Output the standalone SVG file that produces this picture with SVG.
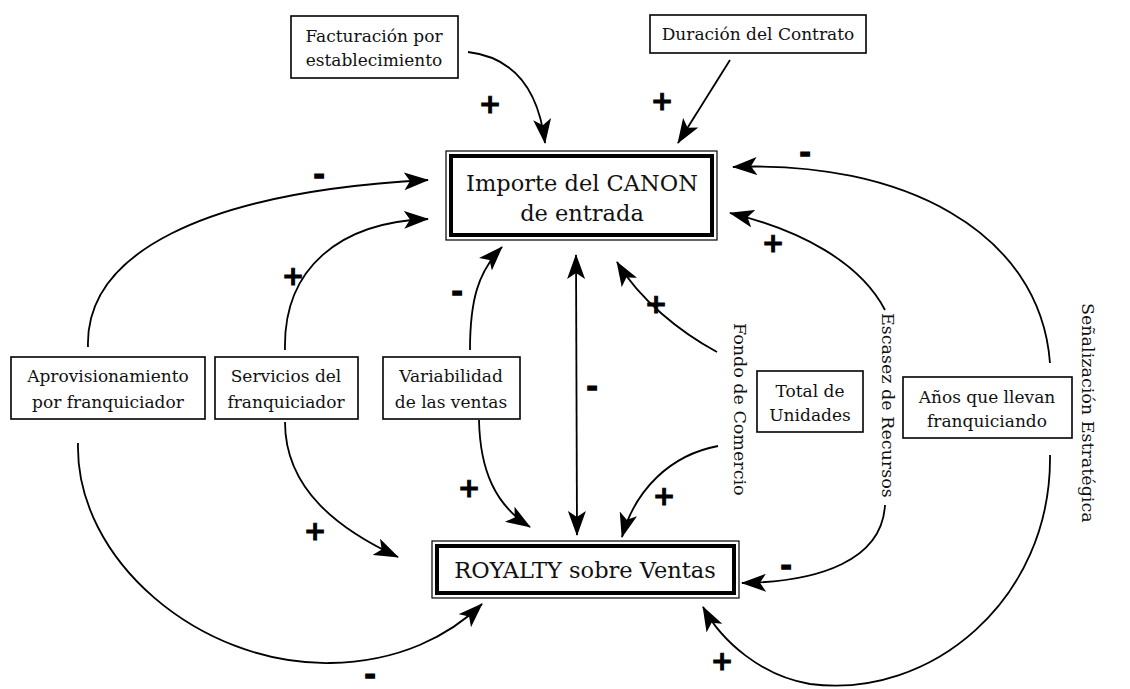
<svg xmlns="http://www.w3.org/2000/svg" width="1130" height="689" viewBox="0 0 1130 689">
  <defs>
    <marker id="arr" markerUnits="userSpaceOnUse" markerWidth="26" markerHeight="18" refX="24" refY="9" orient="auto" viewBox="0 0 26 18">
      <path d="M0,0 L25,9 L0,18 L6,9 z" fill="#000"/>
    </marker>
    <marker id="arrStart" markerUnits="userSpaceOnUse" markerWidth="26" markerHeight="18" refX="24" refY="9" orient="auto-start-reverse" viewBox="0 0 26 18">
      <path d="M0,0 L25,9 L0,18 L6,9 z" fill="#000"/>
    </marker>
  </defs>
  <style>
    .bg { fill: #fff; }
    .box { fill: #fff; stroke: #000; stroke-width: 1.6; }
    .outer { fill: #fff; stroke: #000; stroke-width: 1.2; }
    .inner { fill: none; stroke: #000; stroke-width: 4; }
    .lbl { font-family: "DejaVu Serif", "Liberation Serif", serif; font-size: 17px; fill: #111; text-anchor: middle; }
    .big { font-family: "DejaVu Serif", "Liberation Serif", serif; font-size: 22.5px; fill: #111; text-anchor: middle; }
    .vert { font-family: "DejaVu Serif", "Liberation Serif", serif; font-size: 17.5px; fill: #111; }
    .link { fill: none; stroke: #000; stroke-width: 1.8; marker-end: url(#arr); }
    .sign { font-family: "DejaVu Sans", "Liberation Sans", sans-serif; font-weight: bold; font-size: 27px; fill: #000; stroke: #000; stroke-width: 0.8; text-anchor: middle; }
    .neg { stroke-width: 1.6; }
  </style>
  <rect class="bg" x="0" y="0" width="1130" height="689"/>

  <!-- connectors -->
  <g id="connectors">
    <path class="link" d="M468,52 Q535,60 545,143"/>
    <path class="link" d="M730,60 L678,143"/>
    <path class="link" d="M88,347 C85,255 200,192 428,180"/>
    <path class="link" d="M285,350 C283,268 340,222 428,219"/>
    <path class="link" d="M470,350 C470,300 478,272 502,247"/>
    <path class="link" d="M576,255 L577,535" marker-start="url(#arrStart)"/>
    <path class="link" d="M717,352 C680,332 640,300 617,262"/>
    <path class="link" d="M718,446 C670,455 635,490 622,537"/>
    <path class="link" d="M885,310 C860,262 800,230 730,213"/>
    <path class="link" d="M885,505 C882,560 820,582 742,583"/>
    <path class="link" d="M1050,363 C1040,230 900,160 733,167"/>
    <path class="link" d="M1050,455 C1052,600 930,700 810,684 C762,676 722,642 703,607"/>
    <path class="link" d="M285,422 C285,490 340,530 398,557"/>
    <path class="link" d="M479,420 C480,470 495,505 530,527"/>
    <path class="link" d="M78,443 C75,560 200,665 330,663 C400,662 450,635 482,604"/>

    <!-- polarity signs -->
    <text class="sign" x="490" y="113">+</text>
    <text class="sign" x="662" y="110">+</text>
    <text class="sign neg" x="319" y="184">-</text>
    <text class="sign" x="293" y="285">+</text>
    <text class="sign neg" x="457" y="301">-</text>
    <text class="sign neg" x="592" y="396">-</text>
    <text class="sign" x="656" y="313">+</text>
    <text class="sign" x="664" y="505">+</text>
    <text class="sign" x="773" y="252">+</text>
    <text class="sign neg" x="786" y="575">-</text>
    <text class="sign neg" x="805" y="162">-</text>
    <text class="sign" x="722" y="670">+</text>
    <text class="sign" x="315" y="540">+</text>
    <text class="sign" x="469" y="497">+</text>
    <text class="sign neg" x="370" y="684">-</text>
  </g>

  <!-- stocks -->
  <g id="canon">
    <rect class="outer" x="446" y="151" width="271" height="89"/>
    <rect class="inner" x="451" y="156" width="261" height="79"/>
    <text class="big" x="582" y="191">Importe del CANON</text>
    <text class="big" x="582" y="221">de entrada</text>
  </g>
  <g id="royalty">
    <rect class="outer" x="432" y="541" width="307" height="57"/>
    <rect class="inner" x="437" y="546" width="297" height="47"/>
    <text class="big" x="585" y="578">ROYALTY sobre Ventas</text>
  </g>

  <!-- auxiliary variables -->
  <g id="facturacion">
    <rect class="box" x="291" y="16" width="167" height="62"/>
    <text class="lbl" x="374" y="42">Facturación por</text>
    <text class="lbl" x="374" y="66">establecimiento</text>
  </g>
  <g id="duracion">
    <rect class="box" x="650" y="15" width="216" height="38"/>
    <text class="lbl" x="758" y="40">Duración del Contrato</text>
  </g>
  <g id="aprovisionamiento">
    <rect class="box" x="11" y="357" width="194" height="62"/>
    <text class="lbl" x="108" y="382">Aprovisionamiento</text>
    <text class="lbl" x="108" y="408">por franquiciador</text>
  </g>
  <g id="servicios">
    <rect class="box" x="215" y="357" width="143" height="62"/>
    <text class="lbl" x="286" y="382">Servicios del</text>
    <text class="lbl" x="286" y="408">franquiciador</text>
  </g>
  <g id="variabilidad">
    <rect class="box" x="383" y="357" width="137" height="62"/>
    <text class="lbl" x="451" y="382">Variabilidad</text>
    <text class="lbl" x="451" y="408">de las ventas</text>
  </g>
  <g id="total">
    <rect class="box" x="757" y="371" width="106" height="61"/>
    <text class="lbl" x="810" y="397">Total de</text>
    <text class="lbl" x="810" y="421">Unidades</text>
  </g>
  <g id="anos">
    <rect class="box" x="903" y="377" width="169" height="61"/>
    <text class="lbl" x="987" y="403">Años que llevan</text>
    <text class="lbl" x="987" y="427">franquiciando</text>
  </g>

  <!-- vertical labels -->
  <g id="fondo">
    <text class="vert" transform="translate(734,323) rotate(90)">Fondo de Comercio</text>
  </g>
  <g id="escasez">
    <text class="vert" transform="translate(882,313) rotate(90)">Escasez de Recursos</text>
  </g>
  <g id="senalizacion">
    <text class="vert" transform="translate(1082,303) rotate(90)">Señalización Estratégica</text>
  </g>
</svg>
